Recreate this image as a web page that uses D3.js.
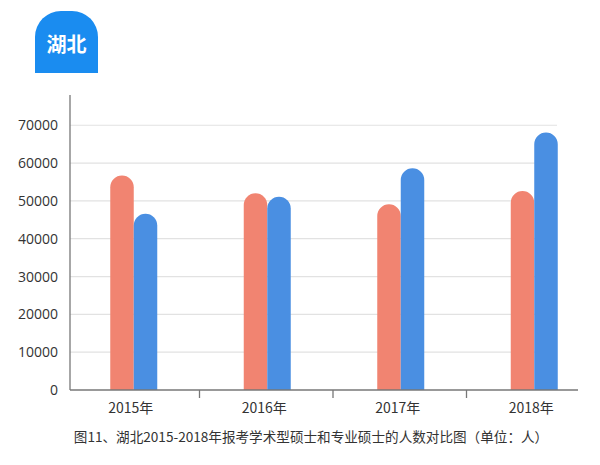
<!DOCTYPE html>
<html>
<head>
<meta charset="utf-8">
<script src="https://cdn.jsdelivr.net/npm/d3@7"></script>
<style>
  body { margin: 0; background: #fff; }
  svg { display: block; font-family: "Noto Sans CJK SC", "Noto Sans", sans-serif; }
</style>
</head>
<body>
<svg id="chart" width="600" height="465"></svg>
<script>
// data
const years = ["2015年", "2016年", "2017年", "2018年"];
const academic = [56700, 52000, 49100, 52600];      // salmon bars
const professional = [46600, 51100, 58600, 68100];  // blue bars
const yTicks = [0, 10000, 20000, 30000, 40000, 50000, 60000, 70000];
const title = "湖北";
const caption = "图11、湖北2015-2018年报考学术型硕士和专业硕士的人数对比图（单位：人）";

const colors = ["#f18471", "#4a8fe2"];

const svg = d3.select("#chart");

const x = d3.scaleBand()
    .domain(years)
    .range([67, 601]);

const y = d3.scaleLinear()
    .domain([0, 78000])
    .range([390, 95]);

const barW = 23.5;

// title badge
const bx = 35, by = 11, bw = 63, bh = 62, br = 26;
svg.append("path")
    .attr("d", `M${bx},${by + bh} L${bx},${by + br} A${br},${br} 0 0 1 ${bx + br},${by}
                L${bx + bw - br},${by} A${br},${br} 0 0 1 ${bx + bw},${by + br} L${bx + bw},${by + bh} Z`)
    .attr("fill", "#1a8cf0");
svg.append("text")
    .attr("x", bx + bw / 2)
    .attr("y", 45)
    .attr("dy", "0.35em")
    .attr("text-anchor", "middle")
    .attr("fill", "#fff")
    .attr("font-size", 20)
    .attr("font-weight", "bold")
    .text(title);

// gridlines
svg.append("g")
    .selectAll("line")
    .data(yTicks.slice(1))
    .enter()
    .append("line")
    .attr("x1", 70)
    .attr("x2", 557)
    .attr("y1", d => y(d))
    .attr("y2", d => y(d))
    .attr("stroke", "#e2e2e2")
    .attr("stroke-width", 1.2);

// y axis
const yAxis = svg.append("g")
    .attr("transform", "translate(70,0)")
    .call(d3.axisLeft(y).tickValues(yTicks).tickSize(0).tickPadding(12).tickFormat(d3.format("d")));
yAxis.select(".domain").remove();
yAxis.selectAll("text")
    .attr("font-size", 14)
    .attr("fill", "#333")
    .attr("font-family", "\"Open Sans\", \"Noto Sans\", sans-serif");
svg.append("line")
    .attr("x1", 70).attr("x2", 70)
    .attr("y1", 95).attr("y2", 390)
    .attr("stroke", "#777")
    .attr("stroke-width", 1.3);

// rounded-top bar path
function barPath(x0, v) {
    const r = barW / 2;
    const top = y(v), base = y(0);
    return `M${x0},${base} L${x0},${top + r} A${r},${r} 0 0 1 ${x0 + barW},${top + r} L${x0 + barW},${base} Z`;
}

const groups = svg.append("g")
    .selectAll("g")
    .data(years)
    .enter()
    .append("g");

groups.append("path")
    .attr("d", (d, i) => barPath(x(d) + x.bandwidth() / 2 - barW, academic[i]))
    .attr("fill", colors[0]);

groups.append("path")
    .attr("d", (d, i) => barPath(x(d) + x.bandwidth() / 2, professional[i]))
    .attr("fill", colors[1]);

// x axis
svg.append("line")
    .attr("x1", 70).attr("x2", 578)
    .attr("y1", 390).attr("y2", 390)
    .attr("stroke", "#777")
    .attr("stroke-width", 1.3);

svg.append("g")
    .selectAll("line")
    .data(years.slice(1))
    .enter()
    .append("line")
    .attr("x1", d => x(d) - 1)
    .attr("x2", d => x(d) - 1)
    .attr("y1", 390)
    .attr("y2", 398)
    .attr("stroke", "#777")
    .attr("stroke-width", 1.3);

svg.append("g")
    .selectAll("text")
    .data(years)
    .enter()
    .append("text")
    .attr("x", d => x(d) + x.bandwidth() / 2 - 3)
    .attr("y", 408)
    .attr("dy", "0.35em")
    .attr("text-anchor", "middle")
    .attr("font-size", 14)
    .attr("fill", "#333")
    .text(d => d);

// caption
svg.append("text")
    .attr("x", 311)
    .attr("y", 437)
    .attr("dy", "0.35em")
    .attr("text-anchor", "middle")
    .attr("font-size", 13.6)
    .attr("fill", "#333")
    .text(caption);
</script>
</body>
</html>
